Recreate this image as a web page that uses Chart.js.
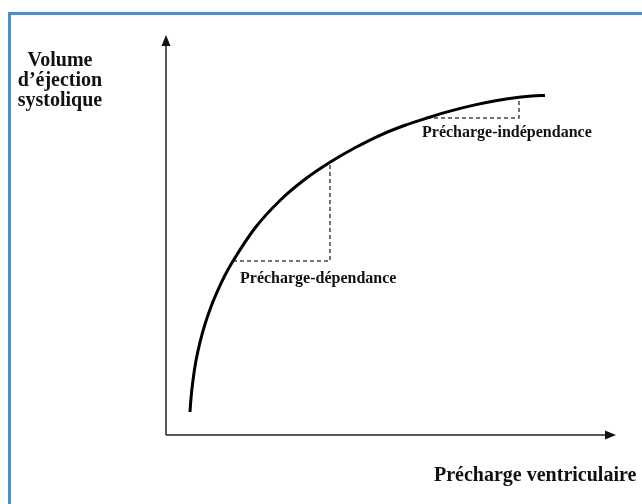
<!DOCTYPE html>
<html>
<head>
<meta charset="utf-8">
<script src="https://cdn.jsdelivr.net/npm/chart.js@4.4.1/dist/chart.umd.min.js"></script>
<style>
  html, body { margin: 0; padding: 0; background: #fff; overflow: hidden; }
  #frame { position: absolute; left: 8px; top: 12px; width: 700px; height: 600px; border: 3px solid #4a8fd6; }
  #wrap { position: absolute; left: 0; top: 0; width: 642px; height: 504px; }
</style>
</head>
<body>
<div id="frame"></div>
<div id="wrap"><canvas id="myChart" width="642" height="504"></canvas></div>
<script>
// curve (arbitrary units, 0..100 on both axes)
const curveX = [5.33, 5.56, 6.0, 6.67, 7.56, 8.67, 10.0, 11.56, 13.11, 14.89, 19.78, 25.33,
                30.89, 36.44, 42.0, 47.56, 53.11, 58.0, 63.11, 68.67, 73.56, 78.44, 81.33, 84.22];
const curveY = [5.75, 9.25, 13.75, 18.63, 23.23, 27.73, 32.08, 36.28, 39.95, 43.5, 51.75, 58.63,
                63.93, 68.18, 71.8, 74.93, 77.43, 79.25, 80.98, 82.53, 83.63, 84.45, 84.78, 84.88];

// dashed steps
const depX = [14.89, 36.44, 36.44];
const depY = [43.5, 43.5, 68.18];
const indepX = [58.0, 78.44, 78.44];
const indepY = [79.25, 79.25, 84.45];

const yTitle = ["Volume", "d\u2019éjection", "systolique"];
const xTitle = "Précharge ventriculaire";
const depLabel = "Précharge-dépendance";
const indepLabel = "Précharge-indépendance";

function toPoints(xs, ys) {
    let pts = [];
    for (let i = 0; i < xs.length; i++) {
        pts.push({ x: xs[i], y: ys[i] });
    }
    return pts;
}

const serif = '"Liberation Serif", "Times New Roman", serif';

const axesAndText = {
    id: 'axesAndText',
    afterDraw(chart) {
        const ctx = chart.ctx;
        const a = chart.chartArea;
        ctx.save();
        ctx.strokeStyle = '#222';
        ctx.fillStyle = '#111';
        ctx.lineWidth = 1.5;

        // y axis with arrow
        ctx.beginPath();
        ctx.moveTo(a.left, a.bottom);
        ctx.lineTo(a.left, a.top + 8);
        ctx.stroke();
        ctx.beginPath();
        ctx.moveTo(a.left, a.top);
        ctx.lineTo(a.left - 4.5, a.top + 11);
        ctx.lineTo(a.left + 4.5, a.top + 11);
        ctx.closePath();
        ctx.fill();

        // x axis with arrow
        ctx.beginPath();
        ctx.moveTo(a.left, a.bottom);
        ctx.lineTo(a.right - 8, a.bottom);
        ctx.stroke();
        ctx.beginPath();
        ctx.moveTo(a.right, a.bottom);
        ctx.lineTo(a.right - 11, a.bottom - 4.5);
        ctx.lineTo(a.right - 11, a.bottom + 4.5);
        ctx.closePath();
        ctx.fill();

        // texts
        ctx.textBaseline = 'alphabetic';
        ctx.font = 'bold 20px ' + serif;
        ctx.textAlign = 'center';
        yTitle.forEach((t, i) => ctx.fillText(t, 60, 66 + i * 20));

        ctx.textAlign = 'left';
        ctx.fillText(xTitle, 434, 481);

        ctx.font = 'bold 16px ' + serif;
        ctx.fillText(depLabel, 240, 283);
        ctx.fillText(indepLabel, 422, 137);
        ctx.restore();
    }
};

new Chart(document.getElementById('myChart'), {
    type: 'scatter',
    data: {
        datasets: [
            {
                data: toPoints(curveX, curveY),
                showLine: true,
                borderColor: '#000',
                borderWidth: 3,
                pointRadius: 0,
                cubicInterpolationMode: 'monotone'
            },
            {
                data: toPoints(depX, depY),
                showLine: true,
                borderColor: '#444',
                borderWidth: 1.5,
                borderDash: [4, 3],
                pointRadius: 0
            },
            {
                data: toPoints(indepX, indepY),
                showLine: true,
                borderColor: '#444',
                borderWidth: 1.5,
                borderDash: [4, 3],
                pointRadius: 0
            }
        ]
    },
    options: {
        responsive: false,
        animation: false,
        layout: { padding: { left: 166, right: 26, top: 35, bottom: 69 } },
        plugins: { legend: { display: false }, tooltip: { enabled: false } },
        scales: {
            x: { type: 'linear', min: 0, max: 100, display: false },
            y: { type: 'linear', min: 0, max: 100, display: false }
        }
    },
    plugins: [axesAndText]
});
</script>
</body>
</html>
